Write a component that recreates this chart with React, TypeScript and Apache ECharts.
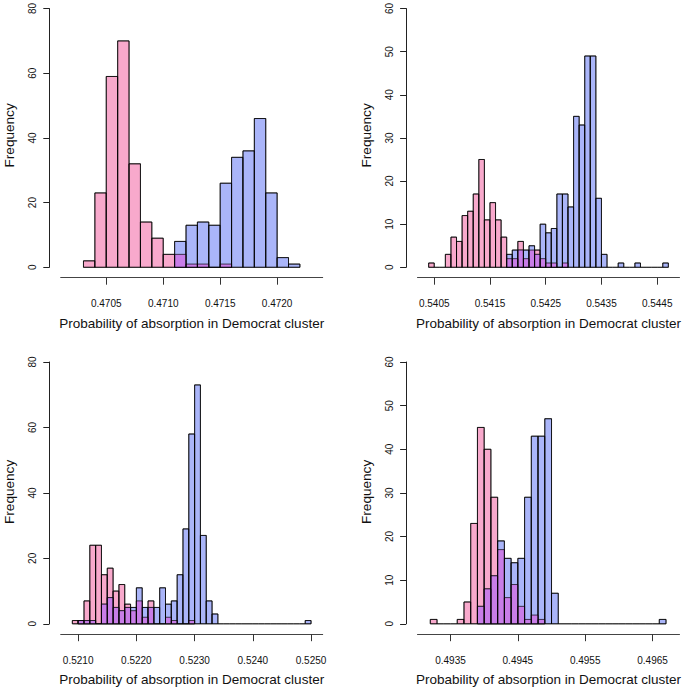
import React, { useEffect, useRef } from "react";
import * as echarts from "echarts";

// ---------- data (counts per 0.0001-wide bin) ----------
const binWidth = 0.0001;

// top-left panel
const aPinkStart = 0.4703;
const aPink = [2, 23, 59, 70, 32, 14, 9, 4, 4, 1, 1, 0, 1];
const aBlueStart = 0.4711;
const aBlue = [8, 13, 14, 13, 26, 34, 36, 46, 23, 3, 1];
const aTicks = [0.4705, 0.471, 0.4715, 0.472];

// top-right panel
const bPinkStart = 0.5404;
const bPink = [1, 0, 0, 3, 7, 6, 12, 13, 17, 25, 11, 15, 11, 7, 2, 2, 6, 2, 4, 4, 2, 1, 1, 0, 1];
const bBlueStart = 0.5418;
const bBlue = [3, 4, 4, 4, 5, 3, 10, 8, 9, 17, 17, 14, 35, 33, 49, 49, 16, 3, 0, 0, 1, 0, 0, 1, 0, 0, 0, 0, 1];
const bTicks = [0.5405, 0.5415, 0.5425, 0.5435, 0.5445];

// bottom-left panel
const cPinkStart = 0.5209;
const cPink = [1, 1, 7, 24, 24, 15, 17, 10, 12, 6, 4, 7, 2, 7, 0, 0, 2, 1, 0, 0, 1];
const cBlueStart = 0.521;
const cBlue = [1, 1, 1, 0, 6, 8, 5, 4, 5, 5, 11, 5, 5, 5, 11, 6, 7, 15, 29, 58, 73, 27, 7, 3,
  0, 0, 0, 0, 0, 0, 0, 0, 0, 0, 0, 0, 0, 0, 0, 1];
const cTicks = [0.521, 0.522, 0.523, 0.524, 0.525];

// bottom-right panel
const dPinkStart = 0.4932;
const dPink = [1, 0, 0, 0, 1, 5, 23, 45, 40, 29, 17, 6, 9, 4, 1, 2, 1];
const dBlueStart = 0.4939;
const dBlue = [4, 8, 11, 19, 15, 14, 15, 29, 43, 43, 47, 7,
  0, 0, 0, 0, 0, 0, 0, 0, 0, 0, 0, 0, 0, 0, 0, 1];
const dTicks = [0.4935, 0.4945, 0.4955, 0.4965];

const xTitle = "Probability of absorption in Democrat cluster";
const yTitle = "Frequency";

// ---------- layout / style ----------
const FONT = "'Liberation Sans', Arial, Helvetica, sans-serif";
const PINK = "#F8A9CC";
const BLUE = "#AAB5F9";
const PURPLE = "#C87DE7";
const EDGE = "rgba(0,0,0,0.68)";

const panels = [
  { pinkStart: aPinkStart, pink: aPink, blueStart: aBlueStart, blue: aBlue, ticks: aTicks,
    xMin: 0.4701, xMax: 0.4724, yMax: 80, yInt: 20, left: 60.7, top: 5.5 },
  { pinkStart: bPinkStart, pink: bPink, blueStart: bBlueStart, blue: bBlue, ticks: bTicks,
    xMin: 0.5402, xMax: 0.5449, yMax: 60, yInt: 10, left: 417.5, top: 5.5 },
  { pinkStart: cPinkStart, pink: cPink, blueStart: cBlueStart, blue: cBlue, ticks: cTicks,
    xMin: 0.5207, xMax: 0.5252, yMax: 80, yInt: 20, left: 60.7, top: 362 },
  { pinkStart: dPinkStart, pink: dPink, blueStart: dBlueStart, blue: dBlue, ticks: dTicks,
    xMin: 0.49301, xMax: 0.4969, yMax: 60, yInt: 10, left: 417.5, top: 362 },
];
const GW = 262;
const GH = 261.8;
const X_OFFSET = 10.4;
const Y_OFFSET = 11.4;

const r5 = (v: number) => Math.round(v * 1e6) / 1e6;
const toBins = (start: number, counts: number[]) =>
  counts.map((c, i) => [r5(start + i * binWidth), r5(start + (i + 1) * binWidth), c]);

const makeRender = (fill: string, stroke: string | null) => (params: any, api: any) => {
  const x0 = api.value(0);
  const x1 = api.value(1);
  const c = api.value(2);
  const p0 = api.coord([x0, c]);
  const p1 = api.coord([x1, 0]);
  if (c === 0) {
    if (!stroke) return null;
    return {
      type: "line",
      shape: { x1: p0[0], y1: p1[1], x2: p1[0], y2: p1[1] },
      style: { stroke, lineWidth: 1 },
    };
  }
  return {
    type: "rect",
    shape: { x: p0[0], y: p0[1], width: p1[0] - p0[0], height: p1[1] - p0[1] },
    style: { fill, stroke: stroke || undefined, lineWidth: stroke ? 1 : 0 },
  };
};

function buildOption() {
  const grid: any[] = [];
  const xAxis: any[] = [];
  const yAxis: any[] = [];
  const series: any[] = [];
  const graphic: any[] = [];

  panels.forEach((p, i) => {
    grid.push({ left: p.left, top: p.top, width: GW, height: GH });
    xAxis.push({
      gridIndex: i,
      type: "value",
      min: p.xMin,
      max: p.xMax,
      offset: X_OFFSET,
      axisLine: { show: true, onZero: false, lineStyle: { color: "#444", width: 1 } },
      axisTick: { show: true, length: 7, customValues: p.ticks, lineStyle: { color: "#333", width: 1 } },
      axisLabel: {
        customValues: p.ticks,
        formatter: (v: number) => v.toFixed(4),
        fontSize: 10,
        fontFamily: FONT,
        color: "#111",
        margin: 21,
      },
      splitLine: { show: false },
    });
    yAxis.push({
      gridIndex: i,
      type: "value",
      min: 0,
      max: p.yMax,
      interval: p.yInt,
      offset: Y_OFFSET,
      axisLine: { show: true, onZero: false, lineStyle: { color: "#222", width: 1 } },
      axisTick: { show: true, length: 6, lineStyle: { color: "#222", width: 1 } },
      axisLabel: { rotate: 90, fontSize: 10, fontFamily: FONT, color: "#111", margin: 12 },
      splitLine: { show: false },
    });

    const pinkBins = toBins(p.pinkStart, p.pink);
    const blueBins = toBins(p.blueStart, p.blue);
    const blueMap = new Map<number, number>();
    blueBins.forEach((b) => blueMap.set(b[0], b[2]));
    const overlap = pinkBins
      .filter((b) => blueMap.has(b[0]) && b[2] > 0 && (blueMap.get(b[0]) as number) > 0)
      .map((b) => [b[0], b[1], Math.min(b[2], blueMap.get(b[0]) as number)]);

    const base = { type: "custom", xAxisIndex: i, yAxisIndex: i, silent: true, clip: false };
    series.push({ ...base, data: pinkBins, renderItem: makeRender(PINK, EDGE) });
    series.push({ ...base, data: blueBins, renderItem: makeRender(BLUE, EDGE) });
    series.push({ ...base, data: overlap, renderItem: makeRender(PURPLE, null) });
    series.push({ ...base, data: pinkBins, renderItem: makeRender("none", EDGE) });
    series.push({ ...base, data: blueBins, renderItem: makeRender("none", EDGE) });

    const axisY = p.top + GH + X_OFFSET;
    graphic.push({
      type: "text",
      x: p.left + GW / 2,
      y: axisY + 45.5,
      style: {
        text: xTitle,
        fontSize: 13.5,
        fontFamily: FONT,
        fill: "#111",
        align: "center",
        verticalAlign: "middle",
      },
    });
    graphic.push({
      type: "text",
      x: p.left - 51.5,
      y: p.top + GH / 2 - 1,
      rotation: Math.PI / 2,
      style: {
        text: yTitle,
        fontSize: 13.6,
        fontFamily: FONT,
        fill: "#111",
        align: "center",
        verticalAlign: "middle",
      },
    });
  });

  return {
    animation: false,
    backgroundColor: "#ffffff",
    grid,
    xAxis,
    yAxis,
    series,
    graphic,
  };
}

export default function App() {
  const ref = useRef<HTMLDivElement>(null);
  useEffect(() => {
    if (!ref.current) return;
    const chart = echarts.init(ref.current, undefined, { renderer: "svg" });
    chart.setOption(buildOption() as any);
    return () => chart.dispose();
  }, []);
  return (
    <div
      ref={ref}
      style={{ position: "fixed", left: 0, top: 0, width: 685, height: 687, background: "#fff" }}
    />
  );
}
